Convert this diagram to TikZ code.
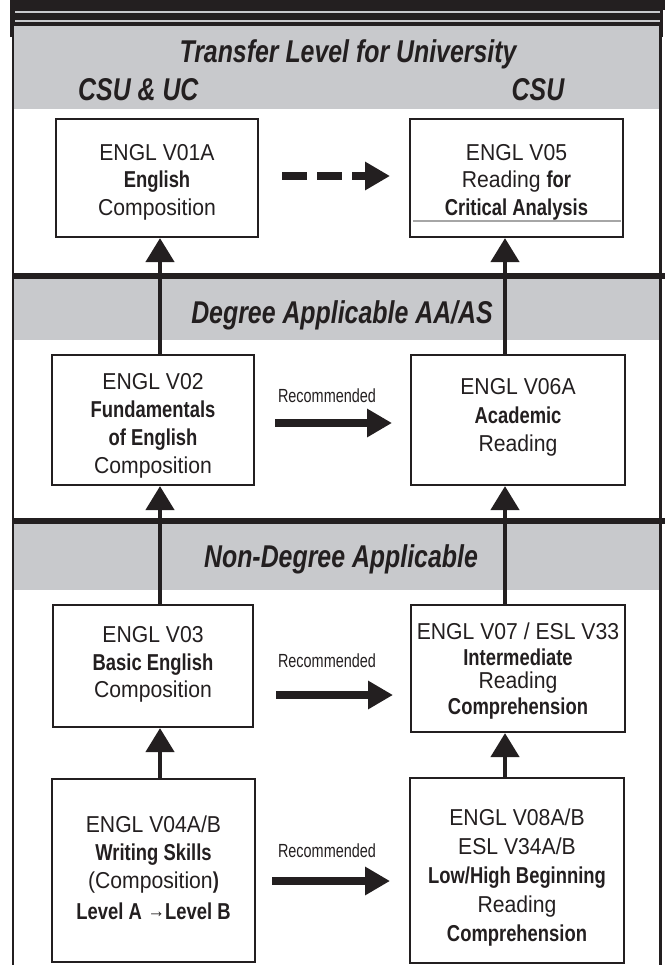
\documentclass[tikz,border=0pt]{standalone}
\usepackage{fontspec}
\usetikzlibrary{arrows.meta}
\newfontfamily\FRg{Liberation Sans}[FakeStretch=0.92]
\newfontfamily\FBd{Liberation Sans}[FakeStretch=0.80]
\newfontfamily\FTi{Liberation Sans}[FakeStretch=0.79]
\newfontfamily\FRc{Liberation Sans}[FakeStretch=0.76]
\newcommand{\bx}[1]{{\FBd\bfseries #1}}
\definecolor{ink}{HTML}{231F20}
\definecolor{band}{HTML}{C8C9CC}
\begin{document}
\begin{tikzpicture}[x={(1pt,0)}, y={(0,-1pt)},
  box/.style={draw=ink, line width=2.2pt, fill=white, inner sep=0pt, align=center, text=ink},
  title/.style={font=\FTi\bfseries\itshape\fontsize{31.5}{36}\selectfont, text=ink, inner sep=0pt},
  reclab/.style={font=\FRc\fontsize{19}{22}\selectfont, text=ink, inner sep=0pt},
  up/.style={draw=ink, line width=4.5pt, -{Triangle[length=24pt,width=28pt]}},
  rec/.style={draw=ink, line width=8.5pt, -{Triangle[length=25pt,width=27pt]}}]
\useasboundingbox (0,0) rectangle (665,965);
% top bar
\fill[ink] (10,0) rectangle (665,10);
\fill[ink] (10,0) rectangle (663,26);
\fill[ink] (10,0) rectangle (14,37);
\fill[ink] (659,0) rectangle (663,37);
\draw[band, line width=1.8pt] (15,12) -- (660,12);
\draw[band, line width=2pt] (15,21.5) -- (660,21.5);
% bands
\fill[band] (13,26) rectangle (660,109);
\fill[band] (13,279) rectangle (660,340);
\fill[band] (13,524) rectangle (660,590);
% separators
\draw[ink, line width=6.5pt] (12,276) -- (665,276);
\draw[ink, line width=6pt] (12,521) -- (665,521);
% frame
\draw[ink, line width=2.2pt] (13,26) -- (13,965);
\draw[ink, line width=2.5pt] (660.5,26) -- (660.5,965);
% titles
\node[title, anchor=base] (t1) at (348,63) {Transfer Level for University};
\node[title, anchor=base west] (t1a) at (78,101) {CSU \& UC};
\node[title, anchor=base] (t1b) at (538,101) {CSU};
\node[title, anchor=base] (t2) at (342,323) {Degree Applicable AA/AS};
\node[title, anchor=base] (t3) at (341,567) {Non-Degree Applicable};
% boxes
\node[box, minimum width=202pt, minimum height=118pt, font=\FRg\fontsize{23}{27.5}\selectfont] (v01) at (157,178)
  {\rule{0pt}{23.8pt}ENGL V01A\\\bx{English}\\Composition};
\node[box, minimum width=213pt, minimum height=118pt, font=\FRg\fontsize{23}{27.5}\selectfont] (v05) at (516.5,178)
  {\rule{0pt}{23.8pt}ENGL V05\\Reading \bx{for}\\\bx{Critical Analysis}};
\node[box, minimum width=202pt, minimum height=130pt, font=\FRg\fontsize{23}{27.7}\selectfont] (v02) at (153,420)
  {\rule{0pt}{27.8pt}ENGL V02\\\bx{Fundamentals}\\\bx{of English}\\Composition};
\node[box, minimum width=214pt, minimum height=130pt, font=\FRg\fontsize{23}{28.5}\selectfont] (v06) at (518,420)
  {ENGL V06A\\\bx{Academic}\\Reading\rule[-9.5pt]{0pt}{9.5pt}};
\node[box, minimum width=200pt, minimum height=122pt, font=\FRg\fontsize{23}{27.5}\selectfont] (v03) at (153,666)
  {ENGL V03\\\bx{Basic English}\\Composition\rule[-7.5pt]{0pt}{7.5pt}};
\node[box, minimum width=214pt, minimum height=127pt, font=\FRg\fontsize{23}{26}\selectfont] (v07) at (518,668.5)
  {\rule{0pt}{21pt}ENGL V07 / ESL V33\\\bx{Intermediate}\\[-3pt]Reading\\\bx{Comprehension}};
\node[box, minimum width=203pt, minimum height=183pt, font=\FRg\fontsize{23}{28}\selectfont] (v04) at (153.5,870.5)
  {ENGL V04A/B\\\bx{Writing Skills}\\(Composition\bx{)}\\[3pt]\bx{Level A} {\fontsize{19}{19}\selectfont\raisebox{2pt}{→}}\bx{Level B}\rule[-6.5pt]{0pt}{6.5pt}};
\node[box, minimum width=214pt, minimum height=185pt, font=\FRg\fontsize{23}{29}\selectfont] (v08) at (517,870.5)
  {\rule{0pt}{30.8pt}ENGL V08A/B\\ESL V34A/B\\\bx{Low/High Beginning}\\Reading\\\bx{Comprehension}};
\draw[gray!70, line width=1.2pt] ([xshift=4pt, yshift=17pt]v05.south west) -- ([xshift=-3pt, yshift=17pt]v05.south east);
% vertical arrows
\coordinate (xl) at (160,0);
\coordinate (xr) at (505,0);
\draw[up] (v02.north -| xl) -- (v01.south -| xl);
\draw[up] (v03.north -| xl) -- (v02.south -| xl);
\draw[up] (v04.north -| xl) -- (v03.south -| xl);
\draw[up] (v06.north -| xr) -- (v05.south -| xr);
\draw[up] (v07.north -| xr) -- (v06.south -| xr);
\draw[up] (v08.north -| xr) -- (v07.south -| xr);
% horizontal arrows
\coordinate (h0) at (0,176);
\coordinate (h1) at (0,423);
\coordinate (h2) at (0,695);
\coordinate (h3) at (0,881);
\draw[rec, dash pattern=on 25pt off 10pt, shorten <=22.9pt, shorten >=18.9pt] (v01.east |- h0) -- (v05.west |- h0);
\draw[rec, shorten <=19.9pt, shorten >=17.9pt] (v02.east |- h1) -- (v06.west |- h1);
\draw[rec, shorten <=21.9pt, shorten >=16.9pt] (v03.east |- h2) -- (v07.west |- h2);
\draw[rec, shorten <=15.9pt, shorten >=18.9pt] (v04.east |- h3) -- (v08.west |- h3);
\node[reclab, anchor=base] (l1) at (327,402) {Recommended};
\node[reclab, anchor=base] (l2) at (327,667) {Recommended};
\node[reclab, anchor=base] (l3) at (327,857) {Recommended};
\end{tikzpicture}
\end{document}
